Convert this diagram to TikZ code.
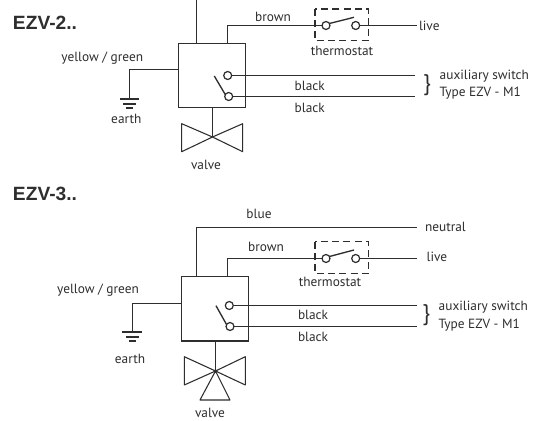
\documentclass[tikz,border=0pt]{standalone}
\usepackage{fontspec}
\setmainfont{PT Sans}
\newfontfamily\headfont{Liberation Sans}
\definecolor{ink}{HTML}{2E2E2E}
\tikzset{
  wire/.style={draw=ink,line width=1pt},
  thin wire/.style={draw=ink,line width=0.8pt},
  unit/.style={draw=ink,line width=1pt,rectangle,inner sep=0pt,outer sep=0pt},
  contact/.style={draw=ink,line width=0.9pt,circle,inner sep=0pt,outer sep=0pt,minimum size=6pt,fill=white},
  label/.style={text=ink,font=\fontsize{10pt}{11pt}\selectfont,inner sep=0pt,outer sep=0pt},
  heading/.style={text=ink,font=\headfont\bfseries\fontsize{14.4pt}{16pt}\selectfont,inner sep=0pt,anchor=west},
  dashbox/.style={draw=ink,line width=1pt,dash pattern=on 5.2pt off 3.2pt},
  bracechar/.style={text=ink,font=\fontsize{17pt}{18pt}\selectfont,inner sep=0pt,outer sep=0pt},
  gnd/.style={draw=ink,line width=1.2pt}
}
\begin{document}
\begin{tikzpicture}[x=0.75pt,y=-0.75pt]
\useasboundingbox (0,0) rectangle (547,421);
\fill[white] (0,0) rectangle (547,421);
% ---- EZV-2
\node[heading] (h2) at (12.7,22.3) {EZV-2..};
\node[unit,minimum width=50.2pt,minimum height=48.3pt,anchor=north west] (b2) at (178.7,43.3) {};
\coordinate (t2) at (196.5,0);
\coordinate (b2top) at (196.5,43.3);
\draw[wire] (t2) -- (b2top);
\node[contact] (tl2) at (326,25.5) {};
\node[contact] (tr2) at (355.7,25.5) {};
\coordinate (bt2) at (227.5,43.3);
\draw[wire] (bt2) -- (227.5,25.5) -- (tl2);
\coordinate (le2) at (416.7,25.5);
\draw[wire] (tr2) -- (le2);
\draw[dashbox] (315,9) rectangle (368.3,40.7);
\coordinate (lv2) at (354,17.3);
\draw[wire] (tl2.30) -- (lv2);
\node[label,anchor=west] (live2) at (419,26) {live};
\node[label] (th2) at (342,51) {thermostat};
\node[label] (br2) at (273,17) {brown};
\node[contact] (a2) at (227.7,75.5) {};
\node[contact] (c2) at (228.7,96.5) {};
\coordinate (ae2) at (415.3,75.5);
\coordinate (ce2) at (415.3,96.5);
\draw[wire] (a2) -- (ae2);
\draw[wire] (c2) -- (ce2);
\coordinate (ls2) at (214.3,76);
\draw[wire] (ls2) -- (c2.150);
\node[label,anchor=west] (k2a) at (294.7,86.3) {black};
\node[label,anchor=west] (k2b) at (294.7,108.3) {black};
\node[bracechar] (br2c) at (427,85.5) {\}};
\node[label,anchor=west] (x2a) at (439.7,75.7) {auxiliary switch};
\node[label,anchor=west] (x2b) at (439.7,93) {Type EZV - M1};
\coordinate (e2) at (129.5,98.7);
\draw[wire] (b2.west |- 0,69.5) -- (129.5,69.5) -- (e2);
\draw[gnd] (120,98.7) -- (139,98.7);
\draw[gnd] (123,103.7) -- (136,103.7);
\draw[gnd] (126,108) -- (133,108);
\node[label] (yg2) at (102.3,57.7) {yellow / green};
\node[label] (ea2) at (126.3,118.7) {earth};
\coordinate (vc2) at (212.5,137);
\draw[wire] (b2.south -| vc2) -- (vc2);
\draw[thin wire,line join=round] (vc2) -- (181.7,123.7) -- (181.7,151.7) -- cycle;
\draw[thin wire,line join=round] (vc2) -- (242.7,123.7) -- (242.7,151.7) -- cycle;
\node[label] (va2) at (206,164.7) {valve};
% ---- EZV-3
\node[heading] (h3) at (12.7,194) {EZV-3..};
\node[unit,minimum width=50.2pt,minimum height=48.2pt,anchor=north west] (b3) at (181.3,276.7) {};
\coordinate (nt3) at (196.5,276.7);
\coordinate (ne3) at (416.7,227.5);
\draw[wire] (nt3) -- (196.5,227.5) -- (ne3);
\node[label] (bl3) at (259,214.3) {blue};
\node[label,anchor=west] (nu3) at (425,226.7) {neutral};
\node[contact] (tl3) at (326,258.5) {};
\node[contact] (tr3) at (355.7,258.5) {};
\coordinate (bt3) at (227.5,276.7);
\draw[wire] (bt3) -- (227.5,258.5) -- (tl3);
\coordinate (le3) at (416.7,258.5);
\draw[wire] (tr3) -- (le3);
\draw[dashbox] (315,241.7) rectangle (368.3,273.3);
\coordinate (lv3) at (354,250);
\draw[wire] (tl3.30) -- (lv3);
\node[label] (br3) at (266,247.3) {brown};
\node[label,anchor=west] (live3) at (426.7,256.7) {live};
\node[label] (th3) at (330,282.3) {thermostat};
\node[contact] (a3) at (229.3,305.5) {};
\node[contact] (c3) at (230,326.5) {};
\coordinate (ae3) at (416.7,305.5);
\coordinate (ce3) at (416.7,326.5);
\draw[wire] (a3) -- (ae3);
\draw[wire] (c3) -- (ce3);
\coordinate (ls3) at (216,305.7);
\draw[wire] (ls3) -- (c3.150);
\node[label,anchor=west] (k3a) at (298,315.3) {black};
\node[label,anchor=west] (k3b) at (298,337.3) {black};
\node[bracechar] (br3c) at (426.3,315) {\}};
\node[label,anchor=west] (x3a) at (438.7,306.7) {auxiliary switch};
\node[label,anchor=west] (x3b) at (438.7,324.7) {Type EZV - M1};
\coordinate (e3) at (132.5,332);
\draw[wire] (b3.west |- 0,303.5) -- (132.5,303.5) -- (e3);
\draw[gnd] (122,332) -- (142,332);
\draw[gnd] (126,337) -- (139,337);
\draw[gnd] (129,341) -- (136,341);
\node[label] (yg3) at (98,290) {yellow / green};
\node[label] (ea3) at (130,359.3) {earth};
\coordinate (vc3) at (215.5,371);
\draw[wire] (b3.south -| vc3) -- (vc3);
\draw[thin wire,line join=round] (vc3) -- (184.3,356.7) -- (184.3,385) -- cycle;
\draw[thin wire,line join=round] (vc3) -- (245.3,356.7) -- (245.3,385) -- cycle;
\draw[thin wire,line join=round] (vc3) -- (200,400) -- (230,400) -- cycle;
\fill[ink] (vc3) circle (1.4pt);
\node[label] (va3) at (210,413.3) {valve};
\end{tikzpicture}
\end{document}
